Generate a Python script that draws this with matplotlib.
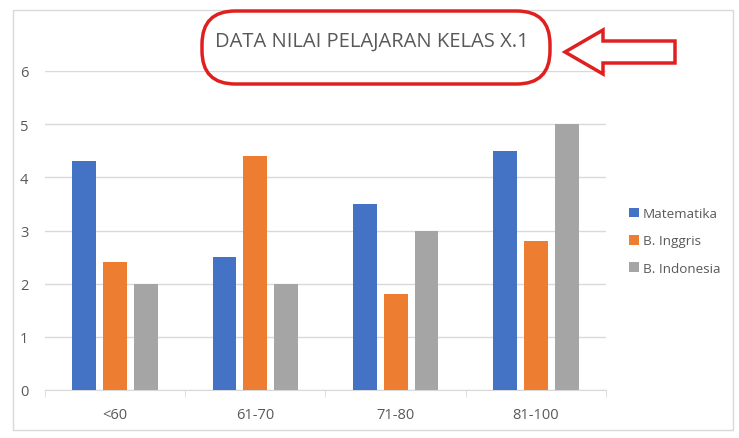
import numpy as np
import matplotlib.pyplot as plt
from matplotlib.patches import Rectangle, FancyBboxPatch, Polygon

# Data
kategori = ['<60', '61-70', '71-80', '81-100']
matematika = [4.3, 2.5, 3.5, 4.5]
inggris = [2.4, 4.4, 1.8, 2.8]
indonesia = [2, 2, 3, 5]
seri = ['Matematika', 'B. Inggris', 'B. Indonesia']
warna = ['#4472C4', '#ED7D31', '#A5A5A5']

W, H = 739, 439
fig = plt.figure(figsize=(W / 100, H / 100), dpi=100)
plt.rcParams['font.family'] = ['Open Sans', 'DejaVu Sans']

def px(x, y):
    # pixel (from top-left) -> figure fraction
    return x / W, 1 - y / H

# Border chart
fig.patches.append(Rectangle(px(13, 431), 720 / W, 420 / H, transform=fig.transFigure,
                             fill=False, edgecolor='#D9D9D9', linewidth=1))

# Axes
x0, y0 = px(45, 391)
ax = fig.add_axes([x0, y0, 561 / W, 319 / H])
x = np.arange(len(kategori))
lebar = 0.17
langkah = 0.22
for i, (nilai, nama) in enumerate(zip([matematika, inggris, indonesia], seri)):
    ax.bar(x + (i - 1) * langkah, nilai, width=lebar, color=warna[i], label=nama, zorder=3)

ax.set_xlim(-0.5, len(kategori) - 0.5)
ax.set_ylim(0, 6)
ax.set_yticks(range(0, 7))
ax.grid(axis='y', color='#D9D9D9', linewidth=1, zorder=0)
for s in ['top', 'right', 'left']:
    ax.spines[s].set_visible(False)
ax.spines['bottom'].set_color('#D9D9D9')
ax.set_xticks(x)
ax.set_xticklabels(kategori)
ax.set_xticks(np.arange(-0.5, len(kategori)), minor=True)
ax.tick_params(axis='x', which='major', length=0, pad=12, labelsize=10.5, labelcolor='#595959')
ax.tick_params(axis='x', which='minor', length=5, color='#D9D9D9')
ax.tick_params(axis='y', length=0, pad=12, labelsize=10.5, labelcolor='#595959')

# Legend
fig.legend(*ax.get_legend_handles_labels(), loc='center left',
           bbox_to_anchor=px(617, 242), bbox_transform=fig.transFigure, frameon=False,
           fontsize=9.7, labelcolor='#595959', handlelength=0.7, handleheight=0.7,
           handletextpad=0.3, labelspacing=1.05)

# Judul dalam kotak merah
fig.text(*px(372, 42), 'DATA NILAI PELAJARAN KELAS X.1', ha='center', va='center',
         fontsize=14.5, color='#595959')
bx, by = px(202, 85)
fig.patches.append(FancyBboxPatch((bx, by), 348 / W, 73 / H, transform=fig.transFigure,
                                  boxstyle='round,pad=0,rounding_size=0.045',
                                  fill=False, edgecolor='#E02020', linewidth=2.5,
                                  mutation_aspect=W / H))

# Panah merah
titik = [(565, 53), (603, 31), (603, 42), (675, 42), (675, 64), (603, 64), (603, 75)]
fig.patches.append(Polygon([px(a, b) for a, b in titik], closed=True, transform=fig.transFigure,
                           fill=False, edgecolor='#E02020', linewidth=2.5))

plt.savefig('out.png', dpi=100)
